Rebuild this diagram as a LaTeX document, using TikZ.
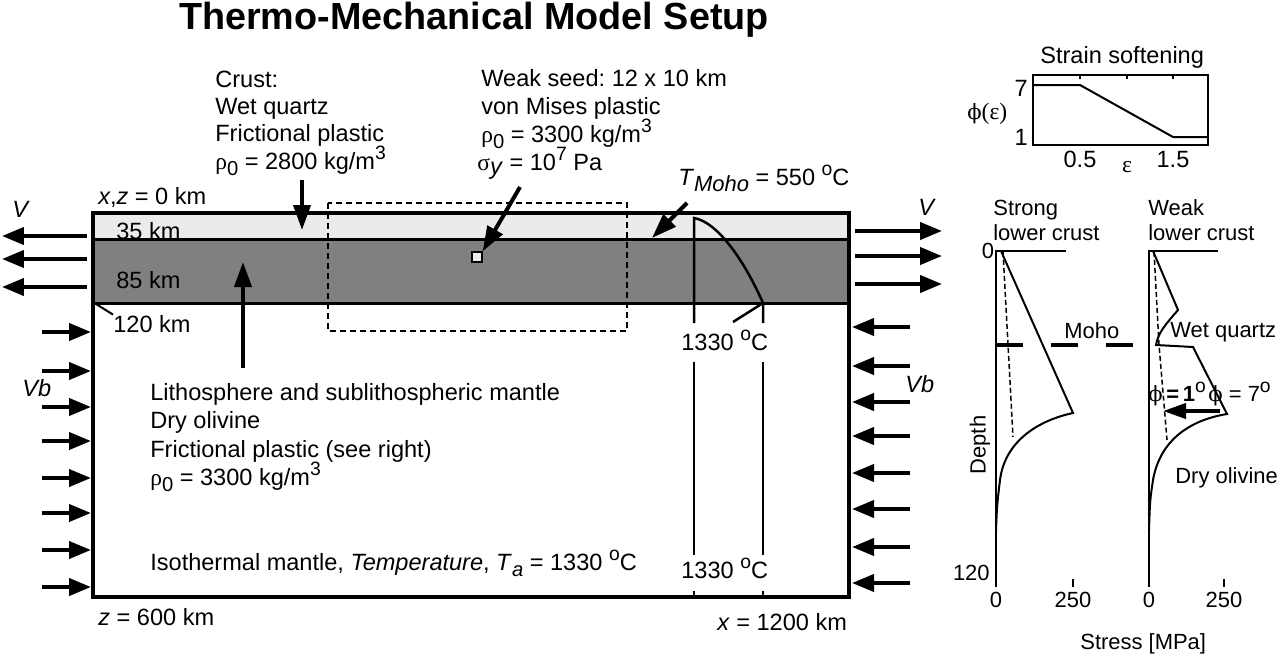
\documentclass[tikz,border=0pt]{standalone}
\usepackage{fontspec}
\setmainfont{Liberation Sans}
\newfontfamily\grk{Liberation Serif}
\newfontfamily\phifont{DejaVu Serif}
\usetikzlibrary{arrows.meta}
\newcommand\sups[1]{\raisebox{0.75ex}{\fontsize{11}{11}\selectfont #1}}
\newcommand\subs[1]{\raisebox{-0.55ex}{\fontsize{11.5}{11.5}\selectfont #1}}
\newcommand\degC{\sups{o}C}
\newcommand\rhozero{{\grk ρ}\subs{0}}
\newcommand\phisym{{\phifont\fontsize{12}{12}\selectfont ϕ}}
\frenchspacing

\begin{document}
\begin{tikzpicture}[x=0.02cm, y=-0.02cm,
    every node/.style={font=\fontsize{13.4}{15.5}\selectfont, inner sep=0pt},
    lbl/.style={anchor=base west},
    plbl/.style={anchor=base west, font=\fontsize{12.5}{15}\selectfont},
    frame/.style={line width=0.65mm},
    layer/.style={line width=0.6mm},
    vel/.style={line width=0.8mm, -{Triangle[length=4.4mm, width=3.4mm]}},
    ptr/.style={line width=0.8mm, -{Triangle[length=5mm, width=3.4mm]}},
    geo/.style={line width=0.5mm},
    prof/.style={line width=0.4mm},
    guide/.style={line width=0.3mm, dash pattern=on 1mm off 0.6mm}
]
\useasboundingbox (0,0) rectangle (1280,656);

% title
\node[anchor=base, font=\fontsize{21.5}{25}\selectfont\bfseries] (title) at (474,29) {Thermo-Mechanical Model Setup};

% model domain
\fill[black!8] (93,213) rectangle (849,239);
\fill[black!50] (93,239) rectangle (849,303);
\draw[layer] (93,239) -- (849,239) (93,303) -- (849,303);
\draw[frame] (93,213) rectangle (849,597);
\draw[line width=0.35mm, dash pattern=on 1.2mm off 0.8mm] (328,203) rectangle (627,331);
\node[draw, fill=black!8, line width=0.25mm, minimum size=2mm] (seed) at (477,257) {};

\node[lbl] (top) at (98,204) {\textit{x},\textit{z} = 0 km};
\node[lbl] (d35) at (116,239) {35 km};
\node[lbl] (d85) at (116,288) {85 km};
\node[lbl] (d120) at (113,332) {120 km};
\draw[line width=0.4mm] (96,304) -- (d120.north west);
\node[lbl] (bottom) at (98,625) {\textit{z} = 600 km};
\node[lbl] (width) at (717,630) {\textit{x} = 1200 km};

% boundary velocities
\node[lbl] (vl) at (12,217) {\textit{V}};
\node[lbl] (vr) at (918,215) {\textit{V}};
\node[lbl] (vbl) at (22,396) {\textit{Vb}};
\node[lbl] (vbr) at (905,392) {\textit{Vb}};
\foreach \y in {236,259,287} \draw[vel] (87,\y) -- (2,\y);
\foreach \y in {231,256,284} \draw[vel] (855,\y) -- (942,\y);
\foreach \y in {332,371,407,441,478,513,550,587} \draw[vel] (42,\y) -- (91,\y);
\foreach \y in {327,366,402,436,473,509,547,583} \draw[vel] (910,\y) -- (852,\y);

% crust
\node[lbl] (crust1) at (215,87) {Crust:};
\node[lbl] (crust2) at (215,114) {Wet quartz};
\node[lbl] (crust3) at (215,141) {Frictional plastic};
\node[lbl] (crust4) at (215,169) {\rhozero\ = 2800 kg/m\sups{3}};
\coordinate (crusttip) at (302,230);
\draw[ptr] (crusttip |- 0,180) -- (crusttip);

% weak seed
\node[lbl] (seed1) at (481,86) {Weak seed: 12 x 10 km};
\node[lbl] (seed2) at (481,114) {von Mises plastic};
\node[lbl] (seed3) at (481,142) {\rhozero\ = 3300 kg/m\sups{3}};
\node[lbl] (seed4) at (477,170) {{\grk σ}\raisebox{-0.4ex}{\textit{y}} = 10\sups{7} Pa};
\draw[ptr] (520,187) -- (seed.north east);

% geotherm
\node[lbl] (tmoho) at (678,185) {\textit{T}\raisebox{-0.55ex}{\fontsize{12.5}{12}\selectfont\itshape Moho} = 550 \degC};
\draw[ptr] (687,203) -- (652,238);
\coordinate (tsurf) at (694,218);
\coordinate (tbase) at (763,303);
\draw[geo] (694,323) -- (tsurf) .. controls (718,222) and (745,262) .. (tbase) -- (763,323);
\draw[geo] (733,322) -- (tbase);
\node[lbl] (t1330a) at (681,350) {1330 \degC};
\node[lbl] (t1330b) at (681,578) {1330 \degC};
\draw[geo] (694,362) -- (694,555) (763,362) -- (763,555);
\draw[geo] (694,591) -- (694,597) (763,591) -- (763,597);

% lithosphere
\node[lbl] (lith1) at (150,400) {Lithosphere and sublithospheric mantle};
\node[lbl] (lith2) at (150,428) {Dry olivine};
\node[lbl] (lith3) at (150,457) {Frictional plastic (see right)};
\node[lbl] (lith4) at (150,485) {\rhozero\ = 3300 kg/m\sups{3}};
\draw[ptr] (243,368) -- (243,262);
\node[lbl] (iso) at (150,570) {Isothermal mantle, \textit{Temperature}, \textit{T}\subs{\textit{a}} = 1330 \degC};

% strain softening
\node[lbl] (sstitle) at (1040,63) {Strain softening};
\draw[line width=0.25mm] (1033,75) rectangle (1208,145);
\foreach \x in {1080,1127,1173} \draw[line width=0.25mm] (\x,75) -- (\x,79);
\draw[prof] (1033,85) -- (1080,85) -- (1173,137) -- (1208,137);
\node[anchor=base east] (s7) at (1028,96) {7};
\node[anchor=base east] (s1) at (1028,145) {1};
\node[anchor=west] (sphi) at (967,114) {\phisym{\grk (ε)}};
\node[anchor=base] (s05) at (1080,167) {0.5};
\node[anchor=base] (s15) at (1173,167) {1.5};
\node[anchor=base] (seps) at (1127,172) {\grk ε};

% strength profiles
\node[plbl] (strong1) at (993,215) {Strong};
\node[plbl] (strong2) at (993,240) {lower crust};
\node[plbl] (weak1) at (1148,215) {Weak};
\node[plbl] (weak2) at (1148,240) {lower crust};
\draw[line width=0.35mm] (1066,251) -- (996,251) -- (996,587);
\draw[line width=0.35mm] (1218,251) -- (1149,251) -- (1149,587);
\draw[line width=0.35mm] (1073,579) -- (1073,587) (1224,579) -- (1224,587);
\node[font=\fontsize{12.5}{15}\selectfont] (d0) at (988,251) {0};
\node[anchor=east, font=\fontsize{12.5}{15}\selectfont] (d120b) at (990,573) {120};
\node[rotate=90, font=\fontsize{12.5}{15}\selectfont] (depth) at (980,445) {Depth};
\node[plbl, anchor=base] (x0a) at (996,607) {0};
\node[plbl, anchor=base] (x250a) at (1073,607) {250};
\node[plbl, anchor=base] (x0b) at (1149,607) {0};
\node[plbl, anchor=base] (x250b) at (1224,607) {250};
\node[plbl] (stress) at (1080,649) {Stress [MPa]};

\draw[line width=0.8mm, dash pattern=on 5.4mm off 5.6mm] (996,345) -- (1136,345);
\node[plbl] (moho) at (1064,338) {Moho};
\draw[prof] (1001,251) -- (1073,413) .. controls (1040,420) and (1005,440) .. (1000,480) .. controls (997,505) .. (996,530);
\draw[guide] (1003,252) -- (1013,437);
\draw[prof] (1153,251) -- (1178,310) .. controls (1165,325) and (1158,333) .. (1156,345) -- (1193,347) -- (1227,414) .. controls (1190,420) and (1160,440) .. (1153,480) .. controls (1150,500) .. (1149,530);
\draw[guide] (1154,252) -- (1159,345) -- (1167,440);
\node[plbl] (wq) at (1170,337) {Wet quartz};
\node[plbl] (phi1) at (1148,401) {\phisym\,\textbf{=\,1}\sups{o}};
\node[plbl] (phi7) at (1208,401) {\phisym\ = 7\sups{o}};
\draw[line width=0.8mm, -{Triangle[length=4.6mm, width=3mm]}] (1220,411) -- (1163,411);
\node[plbl] (dry) at (1175,483) {Dry olivine};
\end{tikzpicture}
\end{document}
